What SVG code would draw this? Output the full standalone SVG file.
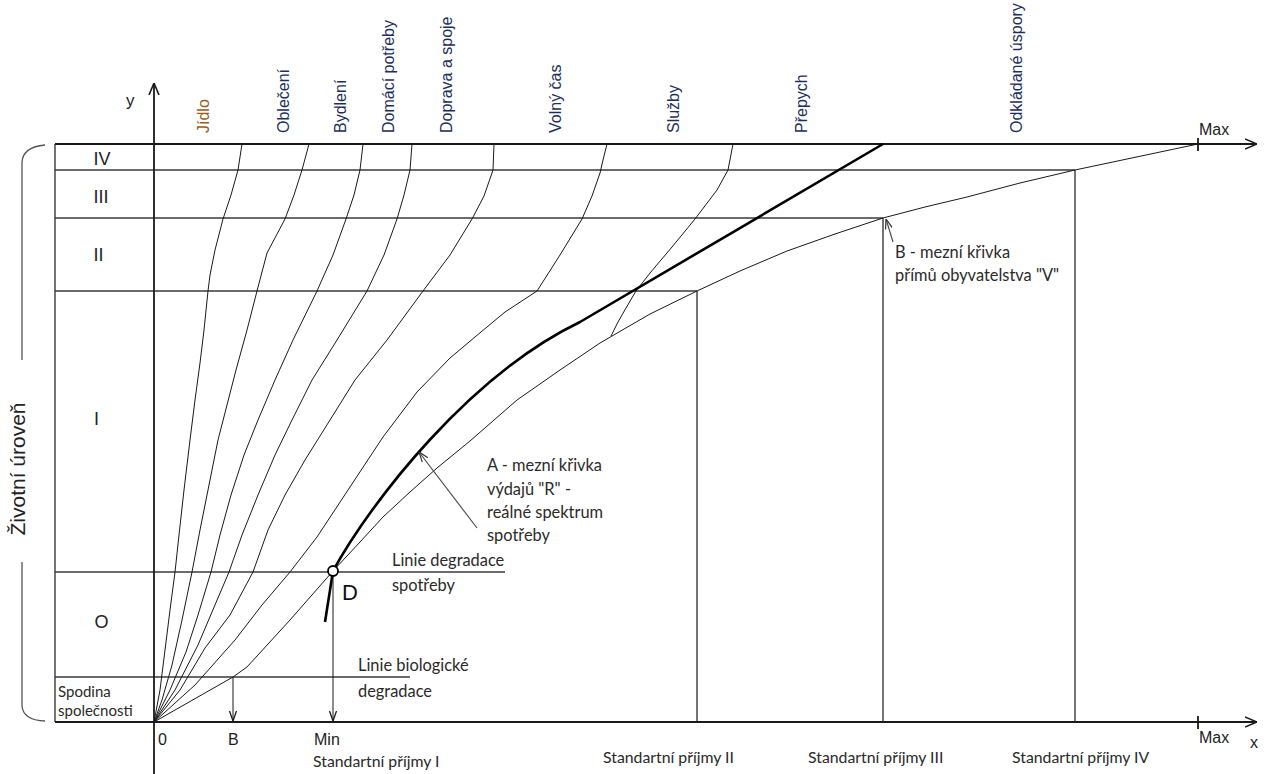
<svg xmlns="http://www.w3.org/2000/svg" width="1266" height="774" viewBox="0 0 1266 774">
<style>
.grid{stroke:#3a3a3a;stroke-width:1.4;fill:none}
.ax{stroke:#1a1a1a;stroke-width:1.8;fill:none}
.c{stroke:#1a1a1a;stroke-width:1;fill:none;stroke-linejoin:round}
.thick{stroke:#000;stroke-width:2.6;fill:none;stroke-linejoin:round}
.ptr{stroke:#444;stroke-width:1.1;fill:none}
.cat{font-family:"Liberation Sans",Arial,sans-serif;font-size:16px;fill:#1c2f5c}
.rom{font-family:"Liberation Sans",Arial,sans-serif;font-size:18px;fill:#222;text-anchor:middle}
.ann{font-family:Lato,"Open Sans",sans-serif;font-size:16.4px;fill:#2a2a2a}
.axl{font-family:"Liberation Sans",Arial,sans-serif;font-size:16px;fill:#222}
.std{font-family:Lato,"Open Sans",sans-serif;font-size:15.8px;fill:#2a2a2a}
</style>
<defs>
<marker id="axh" viewBox="0 0 12 12" refX="12" refY="6" markerWidth="12" markerHeight="12" markerUnits="userSpaceOnUse" orient="auto"><path d="M0,1 L12,6 L0,11" fill="none" stroke="#1a1a1a" stroke-width="1.6"/></marker>
<marker id="sm" viewBox="0 0 10 10" refX="10" refY="5" markerWidth="10" markerHeight="10" markerUnits="userSpaceOnUse" orient="auto"><path d="M0,1.5 L10,5 L0,8.5" fill="none" stroke="#1a1a1a" stroke-width="1.3"/></marker>
<marker id="pt" viewBox="0 0 10 10" refX="10" refY="5" markerWidth="10" markerHeight="10" markerUnits="userSpaceOnUse" orient="auto"><path d="M0,1.5 L10,5 L0,8.5" fill="none" stroke="#333" stroke-width="1.2"/></marker>
</defs>
<rect width="1266" height="774" fill="#fff"/>

<g id="grid">
<line class="grid" x1="55" y1="144" x2="55" y2="722"/>
<line class="grid" x1="55" y1="170" x2="1075" y2="170"/>
<line class="grid" x1="55" y1="218" x2="883" y2="218"/>
<line class="grid" x1="55" y1="291" x2="697" y2="291"/>
<line class="grid" x1="55" y1="572" x2="505" y2="572"/>
<line class="grid" x1="55" y1="677" x2="410" y2="677"/>
<line class="grid" x1="697" y1="291" x2="697" y2="722"/>
<line class="grid" x1="883" y1="218" x2="883" y2="722"/>
<line class="grid" x1="1075" y1="170" x2="1075" y2="722"/>
<path d="M45,145 Q23,147 22,162 L22,360" fill="none" stroke="#555" stroke-width="1.3"/>
<path d="M22,562 L22,706 Q23,720 45,721" fill="none" stroke="#555" stroke-width="1.3"/>
</g>

<g id="axes">
<line class="ax" x1="55" y1="144" x2="1257" y2="144" marker-end="url(#axh)"/>
<line class="ax" x1="55" y1="722" x2="1257" y2="722" marker-end="url(#axh)"/>
<line class="ax" x1="154" y1="774" x2="154" y2="83" marker-end="url(#axh)"/>
<line class="ax" x1="1198" y1="138" x2="1198" y2="151"/>
<line class="ax" x1="1198" y1="716" x2="1198" y2="729"/>
</g>

<g id="curves">
<path class="c" d="M242,144 L238,170 L231,195 L223,219 L215,250 L210,275 L208,291 L204,330 L200,363 L195,400 L190,440 L184,490 L179,535 L175,572 L170,610 L165,650 L160,690 L154,722"/>
<path class="c" d="M309,144 L302,170 L294,195 L285,219 L267,253 L257,291 L247,330 L236,370 L227,405 L218,440 L208,490 L200,530 L192,572 L182,620 L172,665 L162,700 L154,722"/>
<path class="c" d="M363,144 L360,170 L354,195 L346,219 L333,255 L317,291 L293,340 L275,380 L258,420 L244,455 L231,495 L220,535 L211,572 L198,615 L186,652 L170,690 L154,722"/>
<path class="c" d="M412,144 L410,170 L404,195 L397,219 L384,255 L367,291 L337,340 L312,380 L292,420 L275,455 L258,495 L242,535 L229,572 L212,612 L198,645 L175,690 L154,722"/>
<path class="c" d="M494,144 L493,170 L484,196 L472,219 L450,255 L423,291 L387,340 L355,380 L330,420 L305,460 L285,495 L268,530 L253,572 L230,615 L205,648 L180,690 L154,722"/>
<path class="c" d="M607,144 L603,160 L600,173 L592,196 L582,219 L560,255 L537,291 L505,312 L475,337 L450,358 L417,392 L383,437 L350,487 L317,537 L290,572 L262,605 L235,640 L195,685 L154,722"/>
<path class="c" d="M733,144 L728,170 L717,190 L695,219 L672,247 L650,273 L636,291 L626,308 L618,322 L611,336"/>
<path class="c" d="M154,722 L233,677 L247,667 L290,620 L333,571 L360,542 L383,517 L410,492 L437,468 L470,441 L517,400 L560,370 L600,343 L650,314 L697,291 L740,271 L787,251 L835,234 L883,218 L925,207 L967,197 L1020,183 L1075,170 L1198,144"/>
<path class="thick" d="M333,571 C372,500 470,375 580,322 L883,144"/>
<line class="thick" x1="333" y1="571" x2="325" y2="622"/>
<line class="c" x1="233" y1="677" x2="233" y2="721" marker-end="url(#sm)"/>
<line class="c" x1="333" y1="576" x2="333" y2="721" marker-end="url(#sm)"/>
<line class="ptr" x1="477" y1="528" x2="419" y2="452" marker-end="url(#pt)"/>
<line class="ptr" x1="893" y1="242" x2="886" y2="219" marker-end="url(#pt)"/>
<circle cx="333" cy="571" r="5" fill="#fff" stroke="#000" stroke-width="1.8"/>
</g>

<g id="categories">
<text class="cat" style="fill:#9a5a1c" transform="translate(209,133) rotate(-90)">Jídlo</text>
<text class="cat" transform="translate(289,133) rotate(-90)">Oblečení</text>
<text class="cat" transform="translate(346,133) rotate(-90)">Bydlení</text>
<text class="cat" transform="translate(394,133) rotate(-90)">Domácí potřeby</text>
<text class="cat" transform="translate(452,133) rotate(-90)">Doprava a spoje</text>
<text class="cat" transform="translate(561,133) rotate(-90)">Volný čas</text>
<text class="cat" transform="translate(679,133) rotate(-90)">Služby</text>
<text class="cat" transform="translate(807,133) rotate(-90)">Přepych</text>
<text class="cat" transform="translate(1022,133) rotate(-90)">Odkládané úspory</text>
</g>

<g id="levels">
<text class="rom" x="102" y="165">IV</text>
<text class="rom" x="101" y="203">III</text>
<text class="rom" x="98.5" y="261">II</text>
<text class="rom" x="96.5" y="425">I</text>
<text class="rom" x="101.5" y="628">O</text>
<text class="std" x="58" y="697" style="font-size:15px">Spodina</text>
<text class="std" x="58" y="716" style="font-size:15px">společnosti</text>
<text style="font-family:'Liberation Sans',Arial,sans-serif;font-size:21px;fill:#222;text-anchor:middle" transform="translate(25,469) rotate(-90)">Životní úroveň</text>
</g>

<g id="axis-labels">
<text class="axl" x="126" y="106" style="font-size:17px">y</text>
<text class="axl" x="1199" y="135">Max</text>
<text class="axl" x="1199" y="743">Max</text>
<text class="axl" x="1250" y="748">x</text>
<text class="axl" x="158" y="745">0</text>
<text class="axl" x="228" y="745">B</text>
<text class="axl" x="314" y="745">Min</text>
<text class="std" x="313" y="767">Standartní příjmy I</text>
<text class="std" x="603" y="763">Standartní příjmy II</text>
<text class="std" x="808" y="763">Standartní příjmy III</text>
<text class="std" x="1012" y="763">Standartní příjmy IV</text>
</g>

<g id="annotations">
<text class="ann" x="392" y="566">Linie degradace</text>
<text class="ann" x="392" y="591">spotřeby</text>
<text style="font-family:'Liberation Sans',Arial,sans-serif;font-size:22px;fill:#111" x="342" y="600">D</text>
<text class="ann" x="358" y="671">Linie biologické</text>
<text class="ann" x="358" y="697">degradace</text>
<text class="ann" x="487" y="471">A - mezní křivka</text>
<text class="ann" x="487" y="495">výdajů "R" -</text>
<text class="ann" x="487" y="518">reálné spektrum</text>
<text class="ann" x="487" y="541">spotřeby</text>
<text class="ann" x="895" y="258">B - mezní křivka</text>
<text class="ann" x="895" y="281">přímů obyvatelstva "V"</text>
</g>
</svg>
